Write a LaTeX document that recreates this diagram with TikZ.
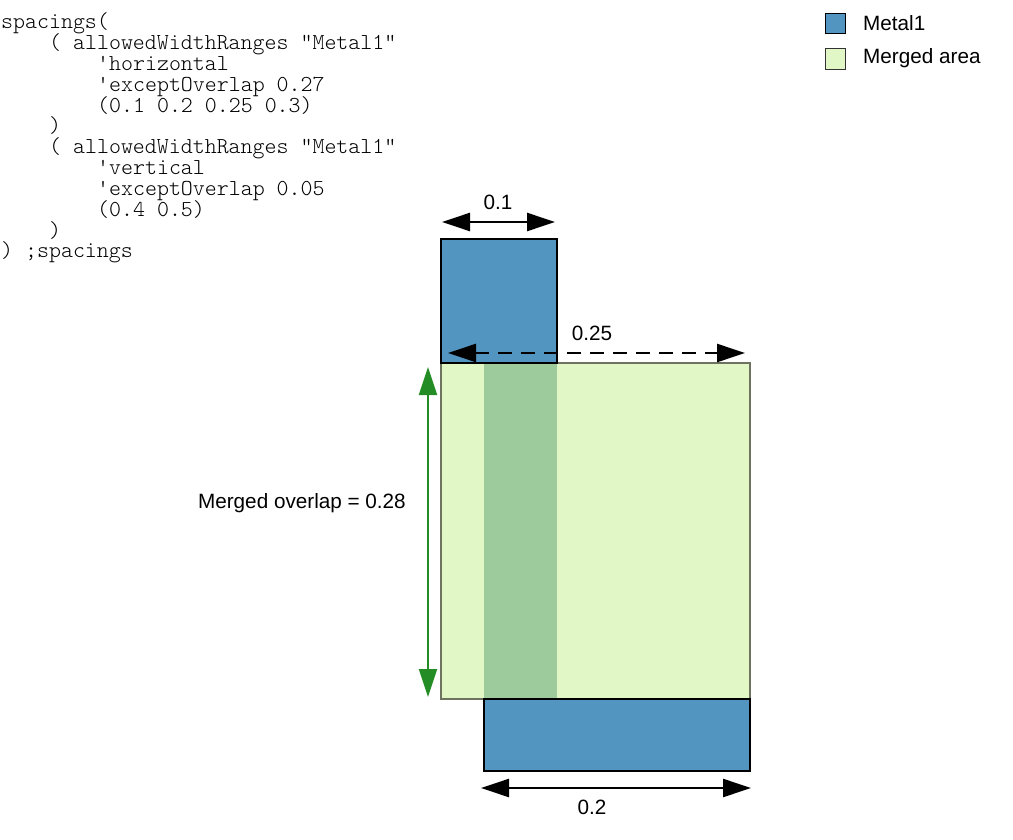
\documentclass[tikz,border=0pt]{standalone}
\usepackage{fontspec}
\setmainfont{Liberation Sans}
\setmonofont{lmmonolt10-regular.otf}
\usetikzlibrary{arrows.meta}
\definecolor{metal}{RGB}{83,149,193}
\definecolor{merged}{RGB}{226,247,198}
\definecolor{overlap}{RGB}{158,203,155}
\definecolor{dimgreen}{RGB}{36,140,36}
\definecolor{mergedline}{RGB}{110,115,95}
\begin{document}
\begin{tikzpicture}[x=1pt,y=-1pt,
  code/.style={anchor=base west,inner sep=0pt,font=\ttfamily\fontsize{22.8}{24}\selectfont},
  lbl/.style={inner sep=0pt,anchor=base,font=\fontsize{20.7}{24}\selectfont},
  tipa/.tip={Triangle[length=28pt,width=18pt]},
  dimline/.style={line width=2.5pt,tipa-tipa},
  metalbox/.style={fill=metal,draw=black,line width=1.3pt},
  mergedbox/.style={fill=merged,draw=mergedline,line width=1.3pt}]
\useasboundingbox (0,0) rectangle (1013,840);

% code listing
\node[code] (c0)  at (1,29)        {spacings(};
\node[code] (c1)  at (49,49.8)     {( allowedWidthRanges "Metal1"};
\node[code] (c2)  at (97,70.6)     {'horizontal};
\node[code] (c3)  at (97,91.4)     {'exceptOverlap 0.27};
\node[code] (c4)  at (97,112.2)    {(0.1 0.2 0.25 0.3)};
\node[code] (c5)  at (49,133)      {)};
\node[code] (c6)  at (49,153.8)    {( allowedWidthRanges "Metal1"};
\node[code] (c7)  at (97,174.6)    {'vertical};
\node[code] (c8)  at (97,195.4)    {'exceptOverlap 0.05};
\node[code] (c9)  at (97,216.2)    {(0.4 0.5)};
\node[code] (c10) at (49,237)      {)};
\node[code] (c11) at (1,257.8)     {) ;spacings};

% legend
\draw[metalbox,line width=1pt] (825,14) rectangle (845,34);
\node[inner sep=0pt,anchor=base west,font=\fontsize{20.7}{24}\selectfont] (lg1) at (863,31) {Metal1};
\draw[mergedbox,draw=black!80,line width=1pt] (825,49) rectangle (845,70);
\node[inner sep=0pt,anchor=base west,font=\fontsize{20.7}{24}\selectfont] (lg2) at (863,64) {Merged area};

% shapes
\fill[merged] (441,363) rectangle (750,699);
\fill[overlap] (484,363) rectangle (557,699);
\draw[mergedbox,fill=none] (441,363) rectangle (750,699);
\draw[metalbox] (441,239) rectangle (557,363);
\draw[metalbox] (484,699) rectangle (750,771);

% dimension arrows
\coordinate (a1) at (442,222);
\coordinate (b1) at (555,222);
\draw[dimline] (a1) -- (b1);
\node[lbl] (l1) at (498,210) {0.1};

\coordinate (a2) at (448,353);
\coordinate (b2) at (745,353);
\draw[dimline,dash pattern=on 14pt off 9pt] (a2) -- (b2);
\node[lbl] (l2) at (592,340) {0.25};

\coordinate (a3) at (481,788);
\coordinate (b3) at (751,788);
\draw[dimline] (a3) -- (b3);
\node[lbl] (l3) at (592,814) {0.2};

\coordinate (a4) at (428,367);
\coordinate (b4) at (428,697);
\draw[dimline,line width=2pt,draw=dimgreen,fill=dimgreen] (a4) -- (b4);
\node[inner sep=0pt,anchor=base east,font=\fontsize{20.7}{24}\selectfont] (l4) at (406,508) {Merged overlap = 0.28};
\end{tikzpicture}
\end{document}
